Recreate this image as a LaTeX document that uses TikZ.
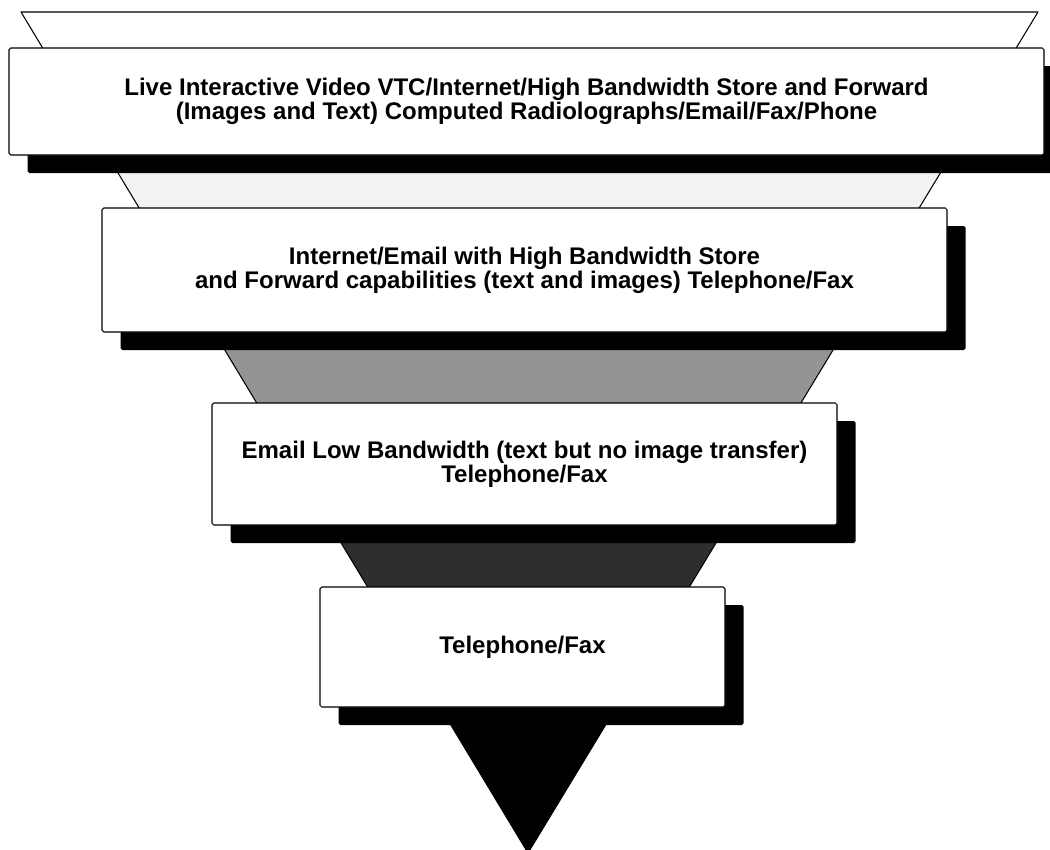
\documentclass[tikz,border=0pt]{standalone}
\usepackage{fontspec}
\setmainfont{Liberation Sans}
\usetikzlibrary{shadows}
\begin{document}
\begin{tikzpicture}[x=0.3mm,y=-0.3mm,line join=round,
  tier/.style 2 args={draw,line width=0.9pt,fill=white,rounded corners=1.5pt,align=center,
    minimum width=#1*0.3mm,minimum height=#2*0.3mm,
    font=\bfseries\fontsize{20.5}{20.5}\selectfont,
    drop shadow={shadow xshift=5.6mm,shadow yshift=-5.4mm,fill=black,opacity=1,draw=none}}]
\useasboundingbox (0,0) rectangle (1050,850);
% funnel
\coordinate (tl) at (21,12);
\coordinate (tr) at (1038,12);
\coordinate (tip) at (528,853);
\begin{scope}
  \clip (tl)--(tr)--(tip)--cycle;
  \foreach \ya/\yb/\shade in {150/215/5,325/410/42,520/595/82,700/860/100}
    \fill[black!\shade] (0,\ya) rectangle (1050,\yb);
\end{scope}
\draw[line width=0.9pt] (tl)--(tr)--(tip)--cycle;
% tiers
\node[tier={1035}{107}] (live) at (526.5,101.5)
  {Live Interactive Video VTC/Internet/High Bandwidth Store and Forward\\
   (Images and Text) Computed Radiolographs/Email/Fax/Phone};
\node[tier={845}{124}] (inet) at (524.5,270)
  {Internet/Email with High Bandwidth Store\\
   and Forward capabilities (text and images) Telephone/Fax};
\node[tier={625}{122}] (email) at (524.5,464)
  {Email Low Bandwidth (text but no image transfer)\\Telephone/Fax};
\node[tier={405}{120}] (phone) at (522.5,647) {Telephone/Fax};
\end{tikzpicture}
\end{document}
